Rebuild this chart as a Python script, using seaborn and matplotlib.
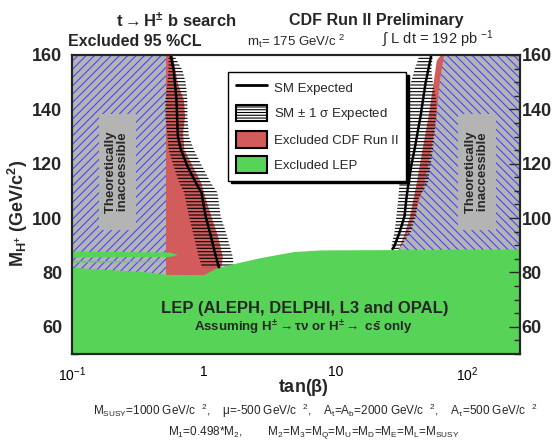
import matplotlib
matplotlib.use("Agg")
import matplotlib.pyplot as plt
from matplotlib import font_manager
from matplotlib.lines import Line2D
from matplotlib.patches import Patch
from matplotlib.ticker import MultipleLocator, NullFormatter
import pandas as pd
import seaborn as sns

# ---- data (tan(beta), M_H+ in GeV/c^2) ----
# low tan(beta) side
m_exp_lo = [160, 154.5, 143.5, 130.1, 125.2, 119.1, 113.0, 109.3, 100.8, 93.4, 86.1, 81.9]
tb_exp_lo = [0.56, 0.59, 0.62, 0.635, 0.67, 0.75, 0.87, 0.96, 1.03, 1.13, 1.23, 1.30]

m_obs_lo = [160, 149.6, 143.5, 137.4, 131.3, 125.2, 119.1, 113.0, 106.9, 100.8, 93.4, 86.1, 81.2, 78.0]
tb_obs_lo = [0.576, 0.63, 0.70, 0.714, 0.69, 0.706, 0.82, 0.95, 1.03, 1.13, 1.27, 1.38, 1.34, 1.2]

m_band_lo = [160, 154.5, 149.6, 143.5, 137.4, 130.1, 125.2, 119.1, 113.0, 109.3, 100.8, 93.4, 86.1, 81.9]
band_lo_min = [0.54, 0.54, 0.53, 0.51, 0.51, 0.53, 0.54, 0.59, 0.65, 0.71, 0.77, 0.84, 0.91, 0.97]
band_lo_max = [0.59, 0.687, 0.73, 0.75, 0.75, 0.77, 0.84, 0.97, 1.13, 1.27, 1.34, 1.50, 1.65, 1.69]

tb_theory_lo = 0.52

# high tan(beta) side
m_exp_hi = [160, 149.6, 137.4, 125.2, 119.1, 113.0, 106.9, 100.8, 94.7, 89.8, 88.6]
tb_exp_hi = [53.1, 48.0, 44.0, 39.6, 37.4, 35.7, 34.3, 33.3, 30.5, 27.9, 27.0]

m_obs_hi = [160, 158.2, 149.6, 137.4, 125.2, 113.0, 100.8, 94.7, 89.8, 88.0]
tb_obs_hi = [62.0, 58.0, 54.7, 50.1, 45.1, 40.8, 36.3, 33.3, 30.5, 29.8]

m_theory_hi = [160, 149.6, 137.4, 125.2, 113.0, 106.9, 100.8, 94.7, 89.8, 88.0]
tb_theory_hi = [66.2, 61.4, 58.0, 53.1, 47.2, 43.3, 39.6, 35.2, 31.4, 29.8]

m_band_hi = [160, 154.5, 149.6, 143.5, 137.4, 125.2, 113.0, 106.9, 100.8, 94.7, 89.8, 88.6]
band_hi_min = [43.3, 39.6, 37.1, 35.2, 34.3, 31.4, 30.5, 29.8, 28.9, 27.9, 26.5, 26.5]
band_hi_max = [54.7, 53.1, 54.7, 58.0, 58.0, 54.7, 50.1, 42.1, 40.8, 37.1, 31.4, 30.0]

# LEP exclusion
tb_lep = [0.1, 0.35, 0.53, 1.0, 1.27, 2.7, 4.8, 7.7, 250]
m_lep = [81.9, 80.3, 79.3, 79.2, 81.9, 85.5, 87.7, 88.3, 88.6]
tb_lep_s1 = [0.1, 0.55, 0.63]
m_lep_s1_lo = [85.6, 85.9, 86.6]
m_lep_s1_hi = [87.9, 87.5, 86.6]
tb_lep_s2 = [0.1, 0.47]
m_lep_s2_lo = [83.8, 84.0]
m_lep_s2_hi = [84.5, 84.2]

tb_range = (0.1, 250)
m_range = (50, 160)

# ---- style ----
sns.set_theme(style="ticks")
names = {f.name for f in font_manager.fontManager.ttflist}
narrow = "Liberation Sans Narrow" if "Liberation Sans Narrow" in names else "Liberation Sans"
plt.rcParams["font.family"] = [narrow, "DejaVu Sans"]
plt.rcParams["mathtext.fontset"] = "custom"
plt.rcParams["mathtext.rm"] = narrow
plt.rcParams["mathtext.it"] = narrow + ":italic"
plt.rcParams["mathtext.bf"] = narrow + ":bold"
plt.rcParams["mathtext.default"] = "regular"
plt.rcParams["hatch.linewidth"] = 0.8

red = "#d25c5c"
green = "#57d457"
gray = "#b4b4b4"
blue = "#4646ff"

fig = plt.figure(figsize=(5.55, 4.47), dpi=100)
ax = fig.add_axes([72 / 555, 1 - 354 / 447, 448 / 555, 299 / 447])

# CDF excluded regions
ax.fill_betweenx(m_obs_lo, tb_range[0], tb_obs_lo, color=red, lw=0, zorder=1)
ax.fill_betweenx(m_obs_hi, tb_obs_hi, tb_range[1], color=red, lw=0, zorder=1)

# theoretically inaccessible
ax.fill_betweenx(m_range, tb_range[0], tb_theory_lo, facecolor=gray, edgecolor=blue,
                 hatch="////", lw=0, zorder=2)
ax.fill_betweenx(m_theory_hi, tb_theory_hi, tb_range[1], facecolor=gray, edgecolor=blue,
                 hatch="\\\\\\\\", lw=0, zorder=2)

# +-1 sigma expected bands
ax.fill_betweenx(m_band_lo, band_lo_min, band_lo_max, facecolor="none", edgecolor="black",
                 hatch="-----", lw=0, zorder=3)
ax.fill_betweenx(m_band_hi, band_hi_min, band_hi_max, facecolor="none", edgecolor="black",
                 hatch="-----", lw=0, zorder=3)

# LEP
ax.fill_between(tb_lep, m_range[0], m_lep, color=green, lw=0, zorder=4)
ax.fill_between(tb_lep_s1, m_lep_s1_lo, m_lep_s1_hi, color=green, lw=0, zorder=4)
ax.fill_between(tb_lep_s2, m_lep_s2_lo, m_lep_s2_hi, color=green, lw=0, zorder=4)

# SM expected
exp_lo = pd.DataFrame({"tb": tb_exp_lo, "m": m_exp_lo})
exp_hi = pd.DataFrame({"tb": tb_exp_hi, "m": m_exp_hi})
sns.lineplot(data=exp_lo, x="tb", y="m", sort=False, estimator=None, color="black", lw=1.8, ax=ax, zorder=5)
sns.lineplot(data=exp_hi, x="tb", y="m", sort=False, estimator=None, color="black", lw=1.8, ax=ax, zorder=5)

ax.set_xscale("log")
ax.set_xlim(*tb_range)
ax.set_ylim(*m_range)
ax.set_xlabel("")
ax.set_ylabel("")
ax.set_xticks([0.1, 1, 10, 100])
ax.set_xticklabels(["10$^{-1}$", "1", "10", "10$^{2}$"], fontsize=10)
ax.xaxis.set_minor_formatter(NullFormatter())
ax.yaxis.set_major_locator(MultipleLocator(20))
ax.yaxis.set_minor_locator(MultipleLocator(5))
ax.set_yticklabels([f"{v:g}" for v in ax.get_yticks()], fontsize=13, fontweight="bold")
ax.set_ylim(*m_range)
ax.tick_params(axis="x", which="both", direction="in", top=False, pad=8, colors="black")
ax.tick_params(axis="x", which="major", length=6, width=1)
ax.tick_params(axis="x", which="minor", length=3, width=1)
ax.tick_params(axis="y", which="both", direction="in", right=False, pad=7)
ax.tick_params(axis="y", which="major", length=8, width=1)
ax.tick_params(axis="y", which="minor", length=4, width=1)
for s in ax.spines.values():
    s.set_linewidth(1.5)
    s.set_color("black")
    s.set_zorder(10)

ax2 = ax.twinx()
ax2.set_ylim(*m_range)
ax2.yaxis.set_major_locator(MultipleLocator(20))
ax2.yaxis.set_minor_locator(MultipleLocator(5))
ax2.set_yticklabels([f"{v:g}" for v in ax2.get_yticks()], fontsize=13, fontweight="bold")
ax2.set_ylim(*m_range)
ax2.tick_params(axis="y", which="both", direction="in", pad=1)
ax2.tick_params(axis="y", which="major", length=8, width=1)
ax2.tick_params(axis="y", which="minor", length=4, width=1)
for s in ax2.spines.values():
    s.set_linewidth(1.5)

# region labels (extra spaces lengthen the grey box along the text)
box = dict(boxstyle="square,pad=0.5", facecolor=gray, edgecolor="none")
theory_txt = "   Theoretically   \n   inaccessible   "
ax.text(0.22, 117, theory_txt, rotation=90, ha="center", va="center",
        fontsize=9.5, fontweight="bold", linespacing=1.0, bbox=box, zorder=6)
ax.text(118, 117, theory_txt, rotation=90, ha="center", va="center",
        fontsize=9.5, fontweight="bold", linespacing=1.0, bbox=box, zorder=6)
ax.text(0.52, 0.151, "LEP (ALEPH, DELPHI, L3 and OPAL)", transform=ax.transAxes,
        ha="center", va="center", fontsize=12, fontweight="bold", zorder=6)
ax.text(0.515, 0.088, "Assuming H$^{\\pm}$$\\rightarrow$$\\tau\\nu$ or H$^{\\pm}$$\\rightarrow$ c$\\bar{s}$ only",
        transform=ax.transAxes, ha="center", va="center", fontsize=9.5, fontweight="bold", zorder=6)

# legend
handles = [
    Line2D([], [], color="black", lw=2),
    Patch(facecolor="white", edgecolor="black", hatch="------", lw=1.5),
    Patch(facecolor=red, edgecolor="black", lw=1.5),
    Patch(facecolor=green, edgecolor="black", lw=1.5),
]
labels = ["SM Expected", "SM $\\pm$ 1 $\\sigma$ Expected", "Excluded CDF Run II", "Excluded LEP"]
leg = ax.legend(handles, labels, loc="upper left", bbox_to_anchor=(0.349, 0.944),
                fontsize=9.5, frameon=True, fancybox=False, edgecolor="black",
                shadow={"color": "black", "alpha": 1}, framealpha=1,
                handlelength=2.4, handleheight=1.6, labelspacing=0.65,
                handletextpad=0.5, borderpad=0.55, borderaxespad=0)
leg.get_frame().set_linewidth(1)
leg.set_zorder(20)

# header and footer text
fig.text(176 / 555, 1 - 20 / 447, "t$\\rightarrow$H$^{\\pm}$ b search", ha="center", va="center",
         fontsize=12, fontweight="bold")
fig.text(376 / 555, 1 - 20 / 447, "CDF Run II Preliminary", ha="center", va="center",
         fontsize=11.5, fontweight="bold")
fig.text(68 / 555, 1 - 41 / 447, "Excluded 95 %CL", ha="left", va="center",
         fontsize=11.5, fontweight="bold")
fig.text(296 / 555, 1 - 41 / 447, "m$_t$= 175 GeV/c $^2$", ha="center", va="center", fontsize=9.5)
fig.text(438 / 555, 1 - 39 / 447, "$\\int$ L dt = 192 pb $^{-1}$", ha="center", va="center",
         fontsize=10.5)
fig.text(18 / 555, 1 - 213 / 447, "M$_{H^{+}}$ (GeV/c$^{2}$)", rotation=90, ha="center",
         va="center", fontsize=13, fontweight="bold")
fig.text(303 / 555, 1 - 387 / 447, "tan($\\beta$)", ha="center", va="center",
         fontsize=13, fontweight="bold")
fig.text(315 / 555, 1 - 411 / 447,
         "M$_{SUSY}$=1000 GeV/c  $^2$,    $\\mu$=-500 GeV/c  $^2$,    A$_t$=A$_b$=2000 GeV/c  $^2$,    A$_\\tau$=500 GeV/c  $^2$",
         ha="center", va="center", fontsize=8.5)
fig.text(314 / 555, 1 - 432 / 447,
         "M$_1$=0.498*M$_2$,        M$_2$=M$_3$=M$_Q$=M$_U$=M$_D$=M$_E$=M$_L$=M$_{SUSY}$",
         ha="center", va="center", fontsize=8.5)

fig.savefig("out.png", dpi=100)
